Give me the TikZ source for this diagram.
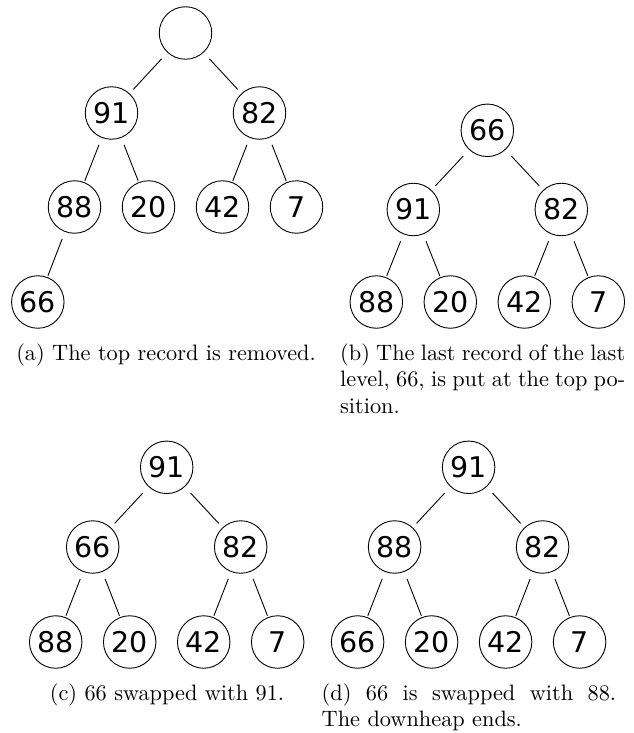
\documentclass[tikz,border=0pt]{standalone}
\usepackage{fontspec}
\newfontfamily\numfont{DejaVu Sans}
\newfontfamily\capfont{lmroman10-regular.otf}
\hbadness=10000
\begin{document}
\begin{tikzpicture}[x=1pt,y=-1pt,
  nd/.style={circle,draw,line width=0.9pt,minimum size=52.5pt,inner sep=0pt,
    font=\numfont\fontsize{28.5}{30}\selectfont},
  eA/.style={line width=0.9pt,shorten <=8.5pt,shorten >=5.5pt},
  eB/.style={line width=0.9pt,shorten <=7.5pt,shorten >=1.5pt},
  captxt/.style={font=\capfont\fontsize{22.3}{26.8}\selectfont,inner sep=0pt}]
\useasboundingbox (0,0) rectangle (634,733);

% ---------- (a) ----------
\node[nd] (a0) at (185.5,33) {};
\node[nd] (a1) at (111.5,113) {91};
\node[nd] (a2) at (259.5,113) {82};
\node[nd] (a3) at (74.5,207) {88};
\node[nd] (a4) at (148.5,207) {20};
\node[nd] (a5) at (222.5,207) {42};
\node[nd] (a6) at (296.5,207) {7};
\node[nd] (a7) at (37.8,302) {66};
\draw[eA] (a0) -- (a1);
\draw[eA] (a0) -- (a2);
\draw[eB] (a1) -- (a3);
\draw[eB] (a1) -- (a4);
\draw[eB] (a2) -- (a5);
\draw[eB] (a2) -- (a6);
\draw[eB] (a3) -- (a7);
\node[captxt,anchor=base] (ca) at (166,360) {(a) The top record is removed.};

% ---------- (b) ----------
\node[nd] (b0) at (487.3,130.3) {66};
\node[nd] (b1) at (413.3,209.5) {91};
\node[nd] (b2) at (561.3,209.5) {82};
\node[nd] (b3) at (376.3,302) {88};
\node[nd] (b4) at (450.3,302) {20};
\node[nd] (b5) at (524.3,302) {42};
\node[nd] (b6) at (598.3,302) {7};
\draw[eA] (b0) -- (b1);
\draw[eA] (b0) -- (b2);
\draw[eB] (b1) -- (b3);
\draw[eB] (b1) -- (b4);
\draw[eB] (b2) -- (b5);
\draw[eB] (b2) -- (b6);
\node[captxt,anchor=base west,text width=285pt,align=justify] (cb) at (340,360)
  {(b) The last record of the last\linebreak level, 66, is put at the top po-\linebreak sition.};

% ---------- (c) ----------
\node[nd] (c0) at (166.7,467.3) {91};
\node[nd] (c1) at (92.7,547) {66};
\node[nd] (c2) at (240.7,547) {82};
\node[nd] (c3) at (55.7,642) {88};
\node[nd] (c4) at (129.7,642) {20};
\node[nd] (c5) at (203.7,642) {42};
\node[nd] (c6) at (277.7,642) {7};
\draw[eA] (c0) -- (c1);
\draw[eA] (c0) -- (c2);
\draw[eB] (c1) -- (c3);
\draw[eB] (c1) -- (c4);
\draw[eB] (c2) -- (c5);
\draw[eB] (c2) -- (c6);
\node[captxt,anchor=base] (cc) at (167,700) {(c) 66 swapped with 91.};

% ---------- (d) ----------
\node[nd] (d0) at (468.6,467.3) {91};
\node[nd] (d1) at (394.6,547) {88};
\node[nd] (d2) at (542.6,547) {82};
\node[nd] (d3) at (357.6,642) {66};
\node[nd] (d4) at (431.6,642) {20};
\node[nd] (d5) at (505.6,642) {42};
\node[nd] (d6) at (579.6,642) {7};
\draw[eA] (d0) -- (d1);
\draw[eA] (d0) -- (d2);
\draw[eB] (d1) -- (d3);
\draw[eB] (d1) -- (d4);
\draw[eB] (d2) -- (d5);
\draw[eB] (d2) -- (d6);
\node[captxt,anchor=base west,text width=294.5pt,align=justify] (cd) at (321.5,700)
  {(d) 66 is swapped with 88.\linebreak The downheap ends.};
\end{tikzpicture}
\end{document}
